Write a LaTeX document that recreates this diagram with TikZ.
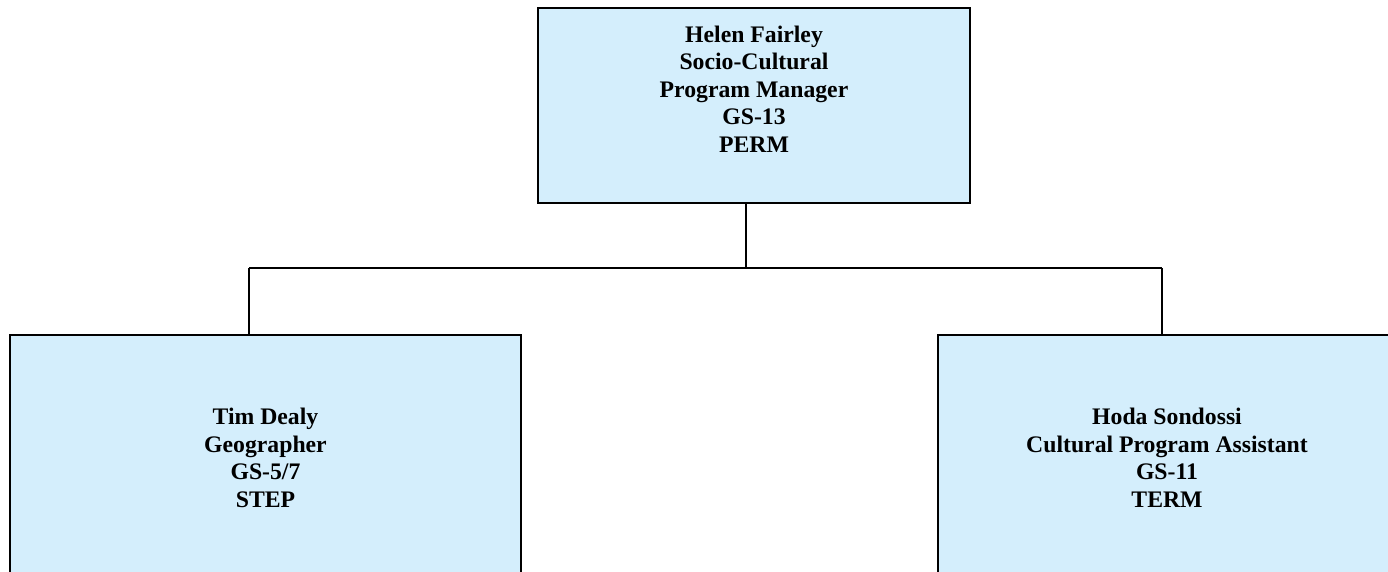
\documentclass[tikz,border=0pt]{standalone}
\usepackage{fontspec}
\setmainfont{Liberation Serif}
\usetikzlibrary{positioning}
\definecolor{boxblue}{RGB}{212,238,252}

\tikzset{
  post/.style={draw=black, fill=boxblue, line width=1.1pt, inner sep=0pt},
  posttext/.style={align=center, font=\bfseries\fontsize{13.5}{15.65}\selectfont},
  link/.style={line width=1pt}
}

\begin{document}
\begin{tikzpicture}[x=0.02cm, y=-0.02cm]
	\useasboundingbox (0,0) rectangle (1388,571);
	\clip (0,0) rectangle (1388,571);

	% boxes
	\node[post, minimum width=8.64cm, minimum height=3.9cm] (fairley) at (754,105.5) {};
	\node[post, minimum width=10.22cm, minimum height=4.92cm] (dealy) at (265.5,458) {};
	\node[post, minimum width=9.12cm, minimum height=4.92cm] (sondossi) at (1166,458) {};

	\node[posttext] (fairleytxt) at (754,89) {Helen Fairley\\Socio-Cultural\\Program Manager\\GS-13\\PERM};
	\node[posttext] (dealytxt) at (265.5,458) {Tim Dealy\\Geographer\\GS-5/7\\STEP};
	\node[posttext] (sondossitxt) at (1167,458) {Hoda Sondossi\\Cultural Program Assistant\\GS-11\\TERM};

	% connectors
	\coordinate (hub) at (746,268);
	\coordinate (lefthub) at (249,268);
	\coordinate (righthub) at (1162,268);

	\draw[link] (fairley.south -| hub) -- (hub);
	\draw[link] (lefthub) -- (righthub);
	\draw[link] (lefthub) -- (lefthub |- dealy.north);
	\draw[link] (righthub) -- (righthub |- sondossi.north);

\end{tikzpicture}
\end{document}
